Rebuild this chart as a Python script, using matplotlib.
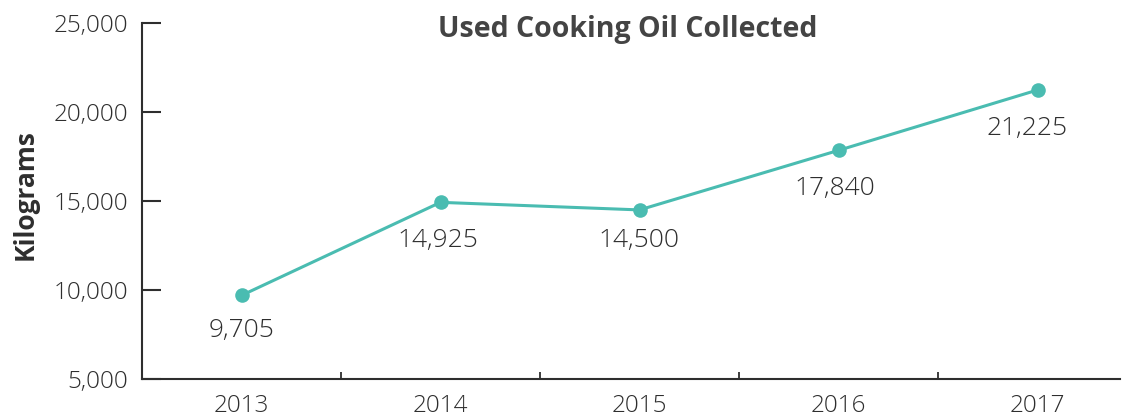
import matplotlib
matplotlib.use("Agg")
import matplotlib.pyplot as plt
from matplotlib.ticker import FuncFormatter, FixedLocator

years = ["2013", "2014", "2015", "2016", "2017"]
kilograms = [9705, 14925, 14500, 17840, 21225]
y_ticks = [5000, 10000, 15000, 20000, 25000]

# label offsets below each point, in pixels (dx, dy)
label_offsets = [(0, -35), (-3, -38), (-1, -31), (-4, -38), (-10, -38)]

line_color = "#4abcb1"
text_color = "#2e2e2e"
font = "Open Sans"

fig = plt.figure(figsize=(11.22, 4.12), dpi=100)
W, H = 1122, 412
left_px, right_px, top_px, bottom_px = 142, 1120, 22.7, 379.3
ax = fig.add_axes([left_px / W, (H - bottom_px) / H,
                   (right_px - left_px) / W, (bottom_px - top_px) / H])

x = list(range(len(years)))
ax.plot(x, kilograms, color=line_color, lw=2.2, marker="o", ms=10.5,
        markeredgewidth=0, solid_capstyle="round", zorder=3)

for xi, v, (dx, dy) in zip(x, kilograms, label_offsets):
    ax.annotate(f"{v:,}", (xi, v), xytext=(dx, dy), textcoords="offset pixels",
                ha="center", va="center", fontsize=19, color=text_color,
                family=font, fontweight="light")

band_px = 199
ax.set_xlim(-0.5, -0.5 + (right_px - left_px) / band_px)
ax.set_ylim(5000, 25000)

ax.yaxis.set_major_locator(FixedLocator(y_ticks))
ax.yaxis.set_major_formatter(FuncFormatter(lambda v, p: f"{int(v):,}"))
ax.tick_params(axis="y", direction="in", length=13.5, width=1.5,
               color=text_color, labelsize=17.5, labelcolor=text_color, pad=10)

ax.set_xticks(x)
ax.set_xticklabels(years)
ax.set_xticks([i + 0.5 for i in range(len(years) - 1)], minor=True)
ax.tick_params(axis="x", which="major", length=0, labelsize=17.5,
               labelcolor=text_color, pad=10.5)
ax.tick_params(axis="x", which="minor", direction="in", length=5,
               width=1.3, color=text_color)

for lab in ax.get_xticklabels() + ax.get_yticklabels():
    lab.set_family(font)
    lab.set_fontweight("light")

for s in ["top", "right"]:
    ax.spines[s].set_visible(False)
for s in ["left", "bottom"]:
    ax.spines[s].set_color(text_color)
    ax.spines[s].set_linewidth(1.5)

fig.text(25 / W, (H - 195) / H, "Kilograms", rotation=90, ha="center",
         va="center", fontsize=19, fontweight="bold", color=text_color,
         family=font)
fig.text(628 / W, (H - 29) / H, "Used Cooking Oil Collected", ha="center",
         va="center", fontsize=20.5, fontweight="bold", color="#444444",
         family=font)

fig.savefig("out.png", dpi=100)
